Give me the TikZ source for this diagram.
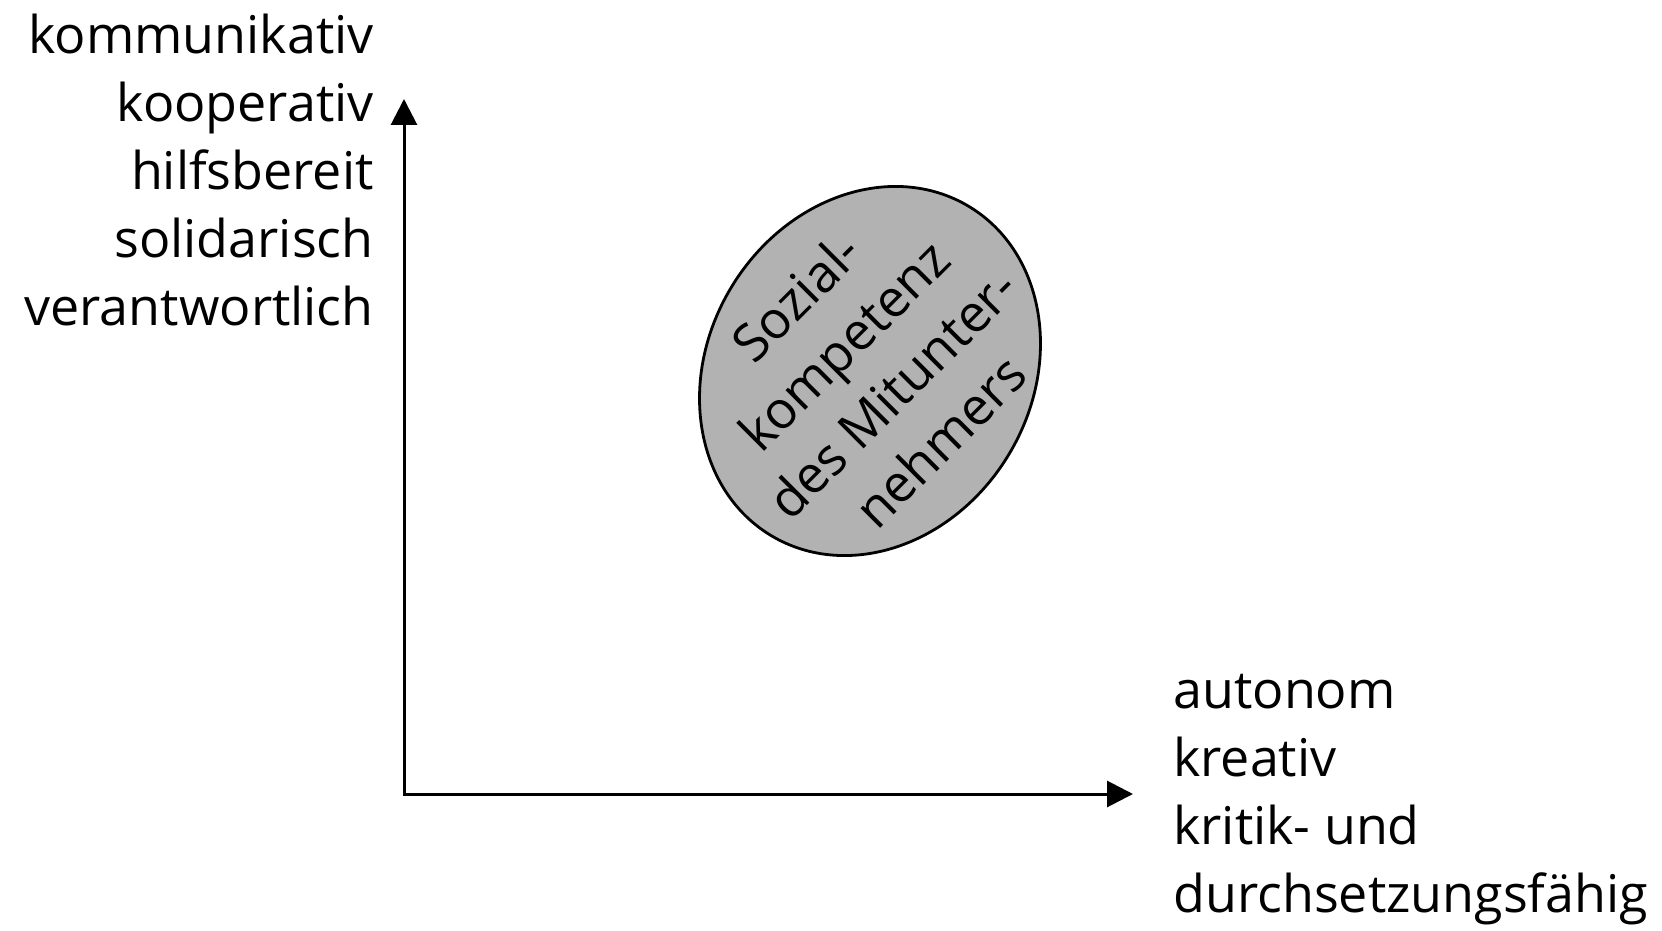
\documentclass[tikz,border=0pt]{standalone}
\usepackage{fontspec}
\setmainfont{Open Sans}
\usetikzlibrary{shapes.geometric,arrows.meta}
\definecolor{blobgray}{gray}{0.70}
\begin{document}
\begin{tikzpicture}[x=0.5pt,y=-0.5pt,
  axis/.style={line width=1.5pt,
    {Triangle[length=13pt,width=13pt]}-{Triangle[length=13pt,width=13pt]}},
  lbl/.style={font=\fontsize{26}{34}\selectfont, inner sep=0pt, text=black},
  blob/.style={ellipse, draw=black, line width=1.4pt, fill=blobgray,
    minimum width=162pt, minimum height=192pt, inner sep=0pt}
]
% canvas
\fill[white] (0,0) rectangle (1662,931);
\useasboundingbox (0,0) rectangle (1662,931);

% axes
\coordinate (ytip) at (404,99);
\coordinate (orig) at (404,794);
\coordinate (xtip) at (1133,794);
\draw[axis] (ytip) -- (orig) -- (xtip);

% axis labels
\node[lbl, anchor=north east, align=right] (ylab) at (374,14)
  {kommunikativ\\kooperativ\\hilfsbereit\\solidarisch\\verantwortlich};
\node[lbl, anchor=north west, align=left] (xlab) at (1173,674)
  {autonom\\kreativ\\kritik- und\\durchsetzungsfähig};

% social competence blob
\node[blob, rotate=-31] (sk) at (870,371) {};
\node[lbl, align=center, rotate=45] (sktext) at (868,369)
  {Sozial-\\kompetenz\\des Mitunter-\\nehmers};
\end{tikzpicture}
\end{document}
